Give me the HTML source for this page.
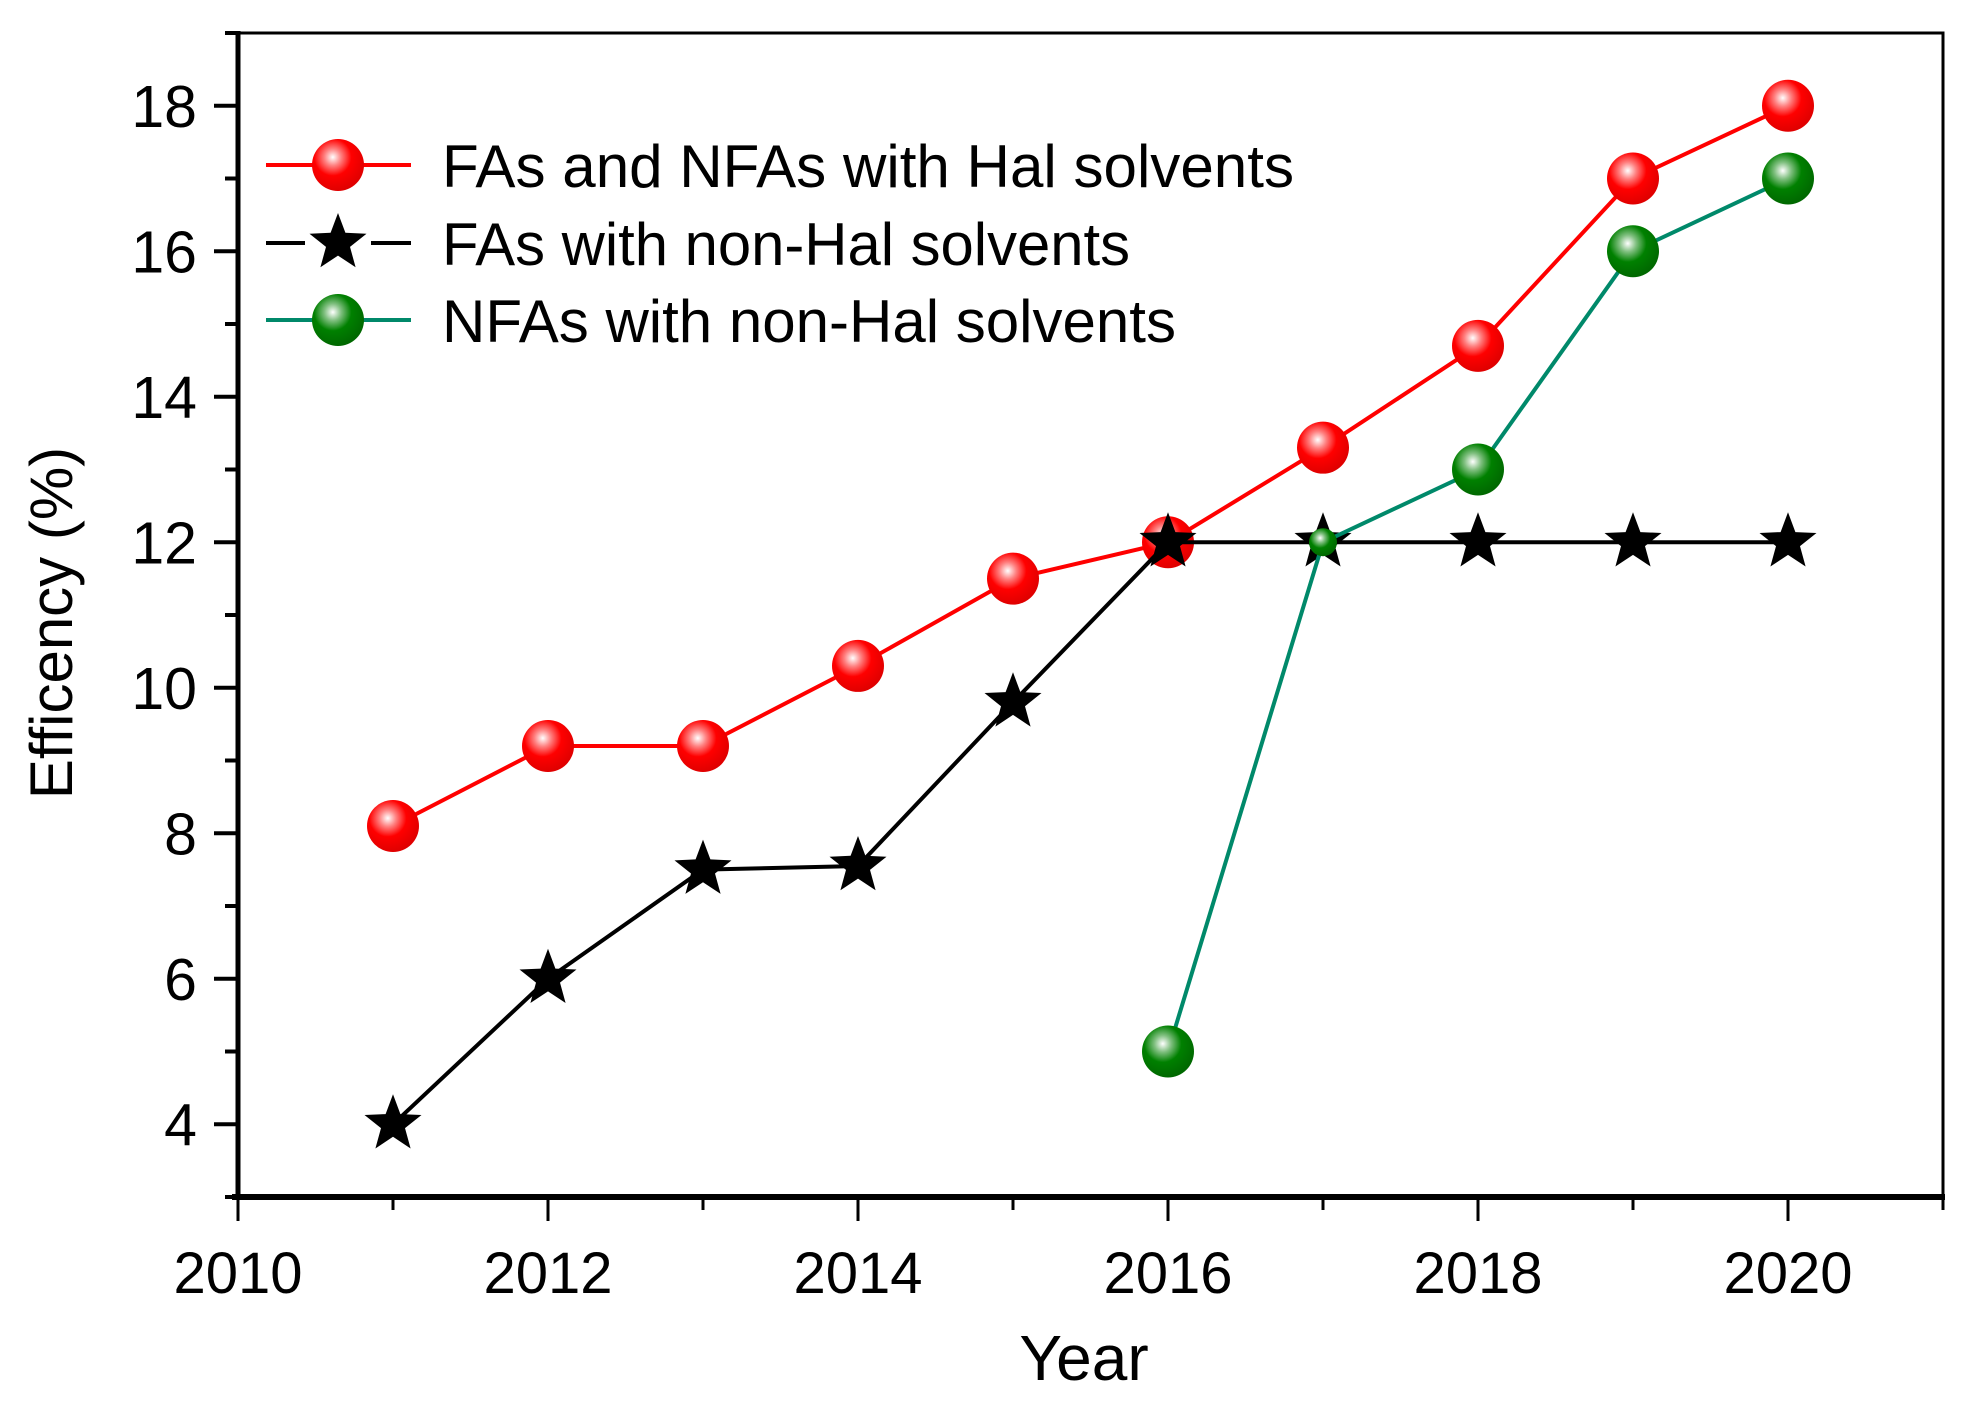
<!DOCTYPE html>
<html><head><meta charset="utf-8"><style>
html,body{margin:0;padding:0;background:#fff}
svg{display:block;font-family:"Liberation Sans",Arial,sans-serif}
</style></head><body>
<svg id="chart" width="1964" height="1403" viewBox="0 0 1964 1403" xmlns="http://www.w3.org/2000/svg">
<defs>
<radialGradient id="gRed" cx="0.4" cy="0.35" r="0.65">
<stop offset="0" stop-color="#ffffff"/><stop offset="0.25" stop-color="#ff8080"/><stop offset="0.55" stop-color="#ff0000"/><stop offset="1" stop-color="#e00000"/>
</radialGradient>
<radialGradient id="gGreen" cx="0.4" cy="0.35" r="0.65">
<stop offset="0" stop-color="#ffffff"/><stop offset="0.25" stop-color="#7fbf7f"/><stop offset="0.55" stop-color="#008000"/><stop offset="1" stop-color="#006800"/>
</radialGradient>
</defs>
<g id="plot"></g>
</svg>
<script>
const years = [2011,2012,2013,2014,2015,2016,2017,2018,2019,2020];
const redValues = [8.1,9.2,9.2,10.3,11.5,12,13.3,14.7,17,18];
const blackValues = [4,6,7.5,7.55,9.8,12,12,12,12,12];
const greenYears = [2016,2017,2018,2019,2020];
const greenValues = [5,12,13,16,17];
const xTickLabels = [2010,2012,2014,2016,2018,2020];
const yTickLabels = [4,6,8,10,12,14,16,18];

const NS = "http://www.w3.org/2000/svg";
const L=238, R=1943, T=33, B=1197;
const xMin=2010, xMax=2021, yMin=3, yMax=19;
const xs = v => L + (v-xMin)/(xMax-xMin)*(R-L);
const ys = v => B - (v-yMin)/(yMax-yMin)*(B-T);
const g = document.getElementById('plot');
function mk(tag, attrs, parent){
  const e=document.createElementNS(NS,tag);
  for(const k in attrs) e.setAttribute(k,attrs[k]);
  (parent||g).appendChild(e); return e;
}
function starPts(cx,cy,ro){
  const ri=ro*0.42; let p=[];
  for(let i=0;i<10;i++){const r=i%2?ri:ro;const a=-Math.PI/2+i*Math.PI/5;p.push((cx+r*Math.cos(a)).toFixed(1)+','+(cy+r*Math.sin(a)).toFixed(1));}
  return p.join(' ');
}
let e;
e=mk('rect',{x:L,y:T,width:R-L,height:B-T,fill:'none',stroke:'#000','stroke-width':3});


e=mk('line',{x1:L,y1:T-2,x2:L,y2:B+2,stroke:'#000','stroke-width':5});


e=mk('line',{x1:L-6,y1:B,x2:R+2,y2:B,stroke:'#000','stroke-width':6});


for(let yr=2010; yr<=2021; yr++){
  const major = yr%2===0;
  e=mk('line',{x1:xs(yr),y1:B,x2:xs(yr),y2:B+(major?24:13),stroke:'#000','stroke-width':3});
  
  
}
xTickLabels.forEach(v=>{
  e=mk('text',{x:xs(v),y:1293,'text-anchor':'middle','font-size':58,fill:'#000'});
  e.textContent=v;
  
  
});
for(let v=3; v<=19; v++){
  const major = v%2===0;
  e=mk('line',{x1:L,y1:ys(v),x2:L-(major?24:13),y2:ys(v),stroke:'#000','stroke-width':4});
  
  
}
yTickLabels.forEach(v=>{
  e=mk('text',{x:197,y:ys(v)+21,'text-anchor':'end','font-size':59,fill:'#000'});
  e.textContent=v;
  
  
});
e=mk('text',{x:1084,y:1380,'text-anchor':'middle','font-size':64,fill:'#000'});
e.textContent='Year';


e=mk('text',{x:0,y:0,'text-anchor':'middle','font-size':60,fill:'#000',transform:'translate(72,623) rotate(-90)'});
e.textContent='Efficency (%)';


function poly(xv,yv,color,name){
  const p=xv.map((x,i)=>xs(x).toFixed(1)+','+ys(yv[i]).toFixed(1)).join(' ');
  const l=mk('polyline',{points:p,fill:'none',stroke:color,'stroke-width':4});
  
  
}
poly(years,redValues,'#ff0000','line-red-hal');
years.forEach((x,i)=>{
  const c=mk('circle',{cx:xs(x),cy:ys(redValues[i]),r:26,fill:'url(#gRed)'});
  
  
});
poly(years,blackValues,'#000','line-black-fa-nonhal');
years.forEach((x,i)=>{
  const s=mk('polygon',{points:starPts(xs(x),ys(blackValues[i]),30),fill:'#000'});
  
  
});
poly(greenYears,greenValues,'#00896a','line-green-nfa-nonhal');
greenYears.forEach((x,i)=>{
  const c=mk('circle',{cx:xs(x),cy:ys(greenValues[i]),r:(x===2017?14:26),fill:'url(#gGreen)'});
  
  
});
const legend=[['FAs and NFAs with Hal solvents','#ff0000','red',165,852],['FAs with non-Hal solvents','#000','star',243,688],['NFAs with non-Hal solvents','#00896a','green',320,734]];
legend.forEach(([label,color,kind,y,w])=>{
  const lg=mk('g',{});
  
  
  mk('line',{x1:266,y1:y,x2:411,y2:y,stroke:color,'stroke-width':4},lg);
  if(kind==='star'){
    mk('rect',{x:305,y:y-8,width:66,height:16,fill:'#fff'},lg);
    mk('polygon',{points:starPts(338,y,30),fill:'#000'},lg);
  } else {
    mk('circle',{cx:338,cy:y,r:26,fill:kind==='red'?'url(#gRed)':'url(#gGreen)'},lg);
  }
  const t=mk('text',{x:442,y:y+22,'font-size':60,fill:'#000',textLength:w,lengthAdjust:'spacingAndGlyphs'},lg);
  t.textContent=label;
});
</script>
</body></html>
